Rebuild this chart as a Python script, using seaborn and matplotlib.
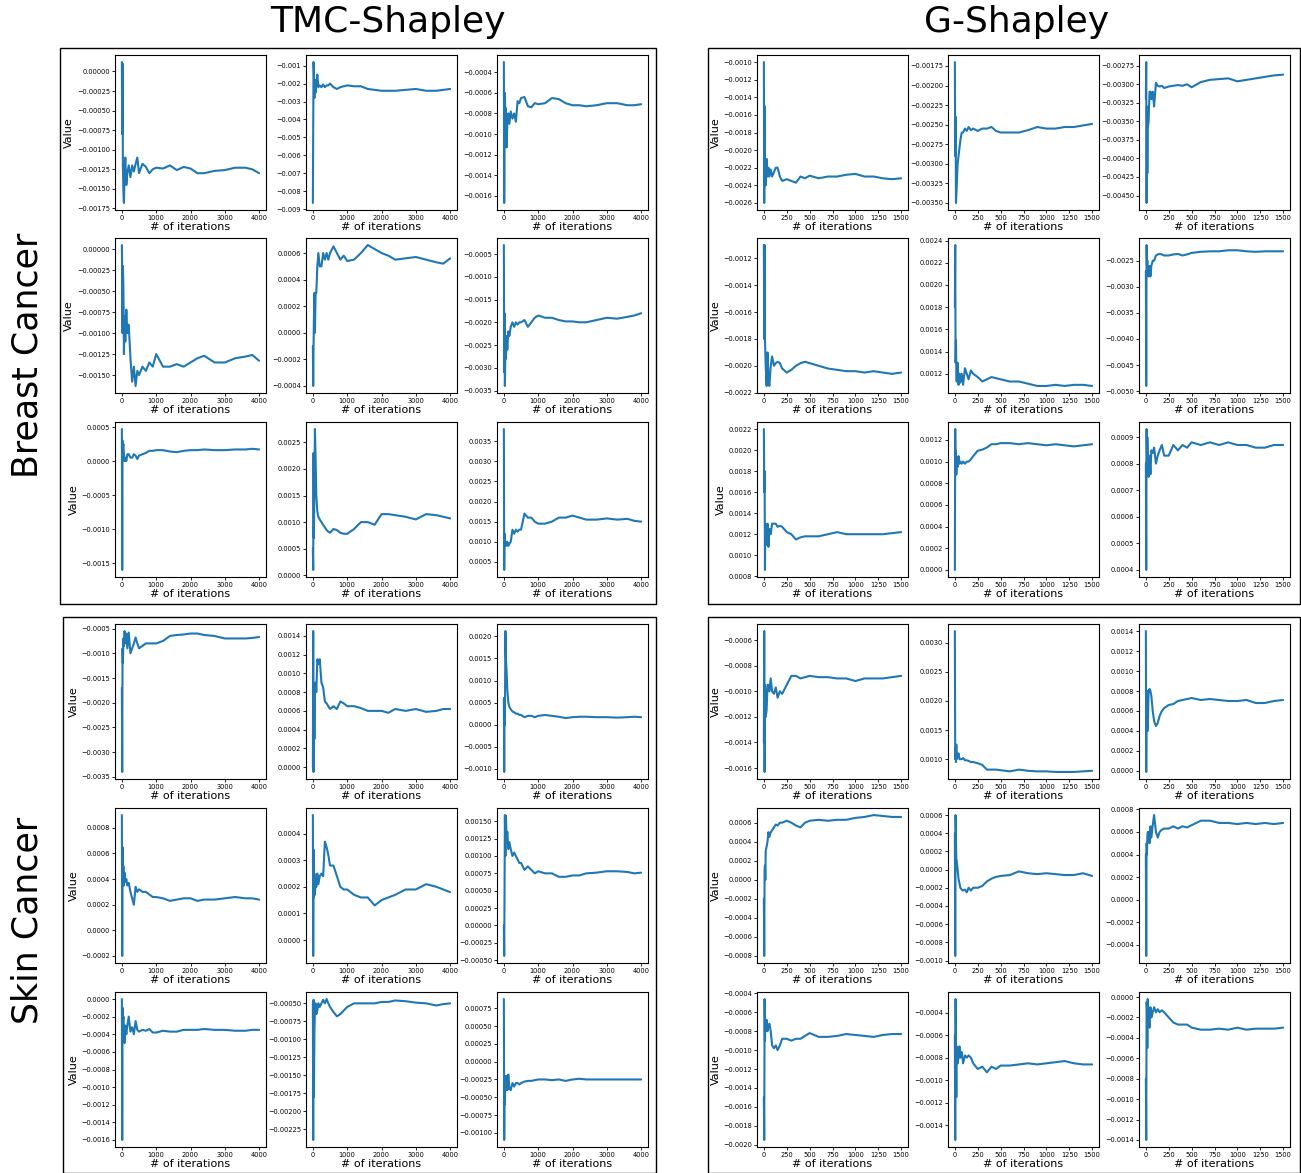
import matplotlib
matplotlib.use("Agg")
import matplotlib.pyplot as plt
import seaborn as sns
from matplotlib.patches import Rectangle

# shared iteration grids (TMC runs to 4000, G runs to 1500)
tmc_iters = [0, 10, 20, 30, 45, 60, 80, 100, 130, 160, 200, 250, 300, 350, 400, 450, 500,
             600, 700, 800, 900, 1000, 1200, 1400, 1600, 1800, 2000, 2200, 2400, 2700,
             3000, 3300, 3600, 3800, 4000]
g_iters = [0, 4, 8, 12, 16, 20, 30, 40, 50, 60, 75, 90, 110, 130, 150, 175, 200, 250, 300,
           350, 400, 450, 500, 600, 700, 800, 900, 1000, 1100, 1200, 1300, 1400, 1500]

# Breast Cancer - TMC-Shapley
bc_tmc_1 = [0.00012, -0.0008, 0.0001, -0.0012, -0.00155, -0.00168, -0.0013, -0.0011, -0.00145, -0.0013,
            -0.0012, -0.00135, -0.0012, -0.00128, -0.00118, -0.0011, -0.0013, -0.00118, -0.00122, -0.0013,
            -0.00125, -0.00123, -0.00124, -0.0012, -0.00126, -0.00122, -0.00124, -0.0013, -0.0013, -0.00127,
            -0.00126, -0.00123, -0.00123, -0.00125, -0.0013]
bc_tmc_2 = [-0.00865, -0.0045, -0.0008, -0.0013, -0.0028, -0.0018, -0.0025, -0.002, -0.0015, -0.0022,
            -0.0021, -0.0022, -0.00205, -0.0022, -0.0021, -0.0021, -0.002, -0.0022, -0.0023, -0.0022,
            -0.00215, -0.0021, -0.00215, -0.00215, -0.0023, -0.00235, -0.0024, -0.0024, -0.0024, -0.00235,
            -0.0023, -0.0024, -0.0024, -0.00235, -0.0023]
bc_tmc_3 = [-0.0003, -0.00167, -0.0009, -0.0006, -0.0009, -0.00075, -0.00113, -0.0009, -0.0008, -0.0009,
            -0.00078, -0.00085, -0.0008, -0.00088, -0.00068, -0.0007, -0.00065, -0.00064, -0.00073, -0.00074,
            -0.0007, -0.00071, -0.0007, -0.00065, -0.00066, -0.0007, -0.00072, -0.00072, -0.00073, -0.00072,
            -0.0007, -0.0007, -0.00072, -0.00072, -0.00071]
bc_tmc_4 = [0.00005, -0.0003, -0.001, -0.0002, -0.00045, -0.00125, -0.0008, -0.0011, -0.00072, -0.001,
            -0.0009, -0.0013, -0.00158, -0.0014, -0.00163, -0.00145, -0.0015, -0.0014, -0.00145, -0.00135,
            -0.0014, -0.00125, -0.0014, -0.0014, -0.00137, -0.0014, -0.00135, -0.0013, -0.00127, -0.00135,
            -0.00135, -0.0013, -0.00128, -0.00126, -0.00133]
bc_tmc_5 = [-0.0001, -0.0004, -0.0001, 0.0001, 0.0003, 0.0, 0.0003, 0.0003, 0.0005, 0.0006,
            0.0005, 0.0005, 0.0006, 0.00055, 0.0006, 0.00055, 0.0006, 0.00065, 0.0006, 0.00055,
            0.00058, 0.00054, 0.00055, 0.0006, 0.00066, 0.00063, 0.0006, 0.00058, 0.00055, 0.00056,
            0.00057, 0.00055, 0.00053, 0.00052, 0.00056]
bc_tmc_6 = [-0.0003, -0.0031, -0.0018, -0.0034, -0.0025, -0.0028, -0.0023, -0.0026, -0.0022, -0.0023,
            -0.0021, -0.002, -0.0021, -0.002, -0.00205, -0.002, -0.002, -0.00195, -0.0021, -0.002,
            -0.0019, -0.00185, -0.0019, -0.0019, -0.00195, -0.00198, -0.00198, -0.002, -0.002, -0.00195,
            -0.0019, -0.00192, -0.00188, -0.00185, -0.0018]
bc_tmc_7 = [0.00047, -0.0016, 0.0003, 0.0002, 0.00025, 0.0001, 0.0, 0.00005, 0.0, 0.0001,
            0.0001, 0.00005, 0.00005, 0.0001, 0.00008, 0.00003, 0.00008, 0.0001, 0.00012, 0.00015,
            0.00015, 0.00016, 0.00016, 0.00014, 0.00013, 0.00015, 0.00016, 0.00016, 0.00017, 0.00016,
            0.00016, 0.00017, 0.00017, 0.00018, 0.00017]
bc_tmc_8 = [0.0005, 0.0001, 0.0023, 0.0007, 0.0017, 0.00275, 0.0022, 0.0015, 0.0012, 0.0011,
            0.00105, 0.001, 0.00095, 0.0009, 0.00085, 0.00082, 0.0008, 0.00087, 0.00085, 0.0008,
            0.00078, 0.00078, 0.00087, 0.001, 0.001, 0.00095, 0.00115, 0.00115, 0.00113, 0.0011,
            0.00105, 0.00115, 0.00113, 0.0011, 0.00107]
bc_tmc_9 = [0.0038, 0.0003, 0.0012, 0.0009, 0.001, 0.00095, 0.0009, 0.001, 0.0009, 0.00095,
            0.001, 0.0013, 0.0012, 0.0013, 0.00125, 0.0013, 0.0013, 0.0017, 0.0016, 0.0016,
            0.0015, 0.00145, 0.00145, 0.0015, 0.0016, 0.0016, 0.00165, 0.0016, 0.00155, 0.00155,
            0.00158, 0.00155, 0.00157, 0.00152, 0.0015]

# Breast Cancer - G-Shapley
bc_g_1 = [-0.001, -0.0026, -0.0015, -0.0021, -0.0023, -0.0024, -0.0021, -0.0023, -0.0022, -0.0023,
          -0.00222, -0.0023, -0.00225, -0.0022, -0.0022, -0.0023, -0.00235, -0.00233, -0.00235, -0.00237,
          -0.0023, -0.00232, -0.00229, -0.00232, -0.0023, -0.0023, -0.00228, -0.00227, -0.0023, -0.0023,
          -0.00232, -0.00233, -0.00232]
bc_g_2 = [-0.0017, -0.0029, -0.0024, -0.0035, -0.0034, -0.0033, -0.003, -0.0029, -0.0028, -0.0027,
          -0.0026, -0.0026, -0.00255, -0.00258, -0.00253, -0.00257, -0.00255, -0.00258, -0.00255, -0.00255,
          -0.00253, -0.00258, -0.0026, -0.0026, -0.0026, -0.00257, -0.00253, -0.00255, -0.00255, -0.00253,
          -0.00253, -0.00251, -0.00249]
bc_g_3 = [-0.0032, -0.0027, -0.0046, -0.0033, -0.0042, -0.0036, -0.0035, -0.0031, -0.0031, -0.0032,
          -0.0031, -0.0033, -0.00298, -0.00302, -0.00303, -0.00302, -0.00305, -0.00303, -0.00302, -0.00301,
          -0.00302, -0.003, -0.00304, -0.00297, -0.00294, -0.00293, -0.00292, -0.00296, -0.00294, -0.00292,
          -0.0029, -0.00288, -0.00287]
bc_g_4 = [-0.0011, -0.0018, -0.0011, -0.0018, -0.0019, -0.002, -0.00215, -0.0019, -0.0021, -0.00215,
          -0.002, -0.00193, -0.002, -0.00198, -0.00197, -0.00198, -0.00202, -0.00205, -0.00203, -0.002,
          -0.00198, -0.00197, -0.00198, -0.002, -0.00202, -0.00203, -0.00204, -0.00204, -0.00205, -0.00204,
          -0.00205, -0.00206, -0.00205]
bc_g_5 = [0.0018, 0.00236, 0.0013, 0.0015, 0.0012, 0.00113, 0.0013, 0.0011, 0.0012, 0.00112,
          0.0012, 0.0011, 0.00125, 0.0012, 0.00115, 0.00123, 0.0012, 0.00117, 0.00113, 0.00115,
          0.00117, 0.00116, 0.00115, 0.00113, 0.00113, 0.00111, 0.00109, 0.00109, 0.0011, 0.00109,
          0.0011, 0.0011, 0.00109]
bc_g_6 = [-0.0027, -0.0049, -0.0022, -0.0026, -0.0025, -0.0027, -0.0028, -0.0026, -0.0028, -0.0026,
          -0.0025, -0.0025, -0.0024, -0.00238, -0.00237, -0.00238, -0.0024, -0.0024, -0.00238, -0.00237,
          -0.0024, -0.00238, -0.00235, -0.00233, -0.00232, -0.00232, -0.0023, -0.0023, -0.00232, -0.00233,
          -0.00232, -0.00232, -0.00232]
bc_g_7 = [0.0022, 0.0016, 0.0018, 0.00086, 0.0013, 0.0012, 0.0011, 0.0013, 0.00108, 0.00125,
          0.0012, 0.0013, 0.0013, 0.0013, 0.00127, 0.00128, 0.00127, 0.00122, 0.0012, 0.00115,
          0.00117, 0.00118, 0.00118, 0.00118, 0.0012, 0.00122, 0.0012, 0.0012, 0.0012, 0.0012,
          0.0012, 0.00121, 0.00122]
bc_g_8 = [0.0, 0.0013, 0.0009, 0.0011, 0.00088, 0.001, 0.00095, 0.00105, 0.00098, 0.001,
          0.00098, 0.001, 0.00098, 0.001, 0.001, 0.00102, 0.00105, 0.0011, 0.00111, 0.00113,
          0.00116, 0.00116, 0.00117, 0.00117, 0.00116, 0.00117, 0.00116, 0.00115, 0.00116, 0.00115,
          0.00114, 0.00115, 0.00116]
bc_g_9 = [0.0008, 0.0004, 0.00093, 0.0008, 0.0009, 0.00085, 0.00075, 0.00083, 0.00076, 0.00085,
          0.00084, 0.00086, 0.0008, 0.00083, 0.00085, 0.00087, 0.00083, 0.00083, 0.00087, 0.00085,
          0.00087, 0.00086, 0.00088, 0.00087, 0.00088, 0.00087, 0.00088, 0.00087, 0.00087, 0.00086,
          0.00086, 0.00087, 0.00087]

# Skin Cancer - TMC-Shapley
sc_tmc_1 = [-0.0017, -0.0034, -0.0009, -0.0012, -0.0007, -0.00085, -0.00055, -0.0008, -0.0006, -0.0009,
            -0.00058, -0.001, -0.0009, -0.0008, -0.00068, -0.0008, -0.0009, -0.00085, -0.0008, -0.0008,
            -0.0008, -0.0008, -0.00075, -0.00065, -0.00063, -0.00062, -0.0006, -0.0006, -0.00063, -0.00065,
            -0.0007, -0.0007, -0.0007, -0.00069, -0.00067]
sc_tmc_2 = [0.0, 0.00145, -0.00005, 0.0009, 0.0003, 0.0008, 0.0009, 0.0008, 0.00115, 0.0011,
            0.00115, 0.0009, 0.00085, 0.0007, 0.00068, 0.00065, 0.00062, 0.00065, 0.00062, 0.0007,
            0.00068, 0.00065, 0.00065, 0.00063, 0.0006, 0.0006, 0.0006, 0.00058, 0.00062, 0.0006,
            0.00062, 0.00059, 0.0006, 0.00062, 0.00062]
sc_tmc_3 = [0.0006, -0.00107, 0.0006, 0.0, 0.00212, 0.0015, 0.0012, 0.0008, 0.0005, 0.0004,
            0.00035, 0.0003, 0.00028, 0.00025, 0.00025, 0.00022, 0.00022, 0.00017, 0.0002, 0.0002,
            0.00017, 0.0002, 0.00022, 0.0002, 0.00018, 0.00015, 0.00017, 0.00018, 0.00018, 0.00017,
            0.00017, 0.00016, 0.00017, 0.00018, 0.00017]
sc_tmc_4 = [0.0009, -0.0002, 0.00065, 0.0004, 0.0005, 0.00035, 0.00045, 0.00038, 0.0004, 0.00035,
            0.00037, 0.0003, 0.00025, 0.0002, 0.00034, 0.0003, 0.00032, 0.0003, 0.0003, 0.00028,
            0.00026, 0.00026, 0.00025, 0.00023, 0.00024, 0.00025, 0.00025, 0.00023, 0.00024, 0.00024,
            0.00025, 0.00026, 0.00025, 0.00025, 0.00024]
sc_tmc_5 = [0.00047, -0.00006, 0.00034, 0.00016, 0.00025, 0.00017, 0.00022, 0.0002, 0.00025, 0.00021,
            0.00024, 0.00025, 0.00024, 0.00037, 0.00035, 0.00032, 0.00028, 0.00028, 0.00024, 0.0002,
            0.00019, 0.00019, 0.00017, 0.00016, 0.00016, 0.00013, 0.00015, 0.00016, 0.00017, 0.00019,
            0.00019, 0.00021, 0.0002, 0.00019, 0.00018]
sc_tmc_6 = [0.0, -0.00044, 0.0005, 0.00159, 0.001, 0.00158, 0.0012, 0.00135, 0.0011, 0.0012,
            0.0011, 0.001, 0.00105, 0.001, 0.00095, 0.0009, 0.0009, 0.0008, 0.00085, 0.0008,
            0.00075, 0.00078, 0.00075, 0.00075, 0.0007, 0.0007, 0.00072, 0.00072, 0.00075, 0.00076,
            0.00078, 0.00078, 0.00077, 0.00075, 0.00076]
sc_tmc_7 = [0.0, -0.0016, -0.0001, -0.0003, -0.0002, -0.0004, -0.0005, -0.0003, -0.0004, -0.0003,
            -0.0002, -0.00037, -0.00032, -0.0004, -0.00025, -0.00035, -0.00037, -0.00035, -0.00036, -0.00034,
            -0.00038, -0.00038, -0.00036, -0.00037, -0.00037, -0.00035, -0.00035, -0.00035, -0.00034, -0.00035,
            -0.00035, -0.00036, -0.00036, -0.00035, -0.00035]
sc_tmc_8 = [-0.0005, -0.0024, -0.00045, -0.0018, -0.0009, -0.0006, -0.0005, -0.00065, -0.0006, -0.0005,
            -0.00055, -0.0005, -0.00045, -0.0005, -0.00044, -0.0005, -0.00055, -0.00062, -0.00068, -0.00065,
            -0.0006, -0.00055, -0.0005, -0.0005, -0.0005, -0.0005, -0.00048, -0.00048, -0.00046, -0.00047,
            -0.00049, -0.0005, -0.00053, -0.00051, -0.0005]
sc_tmc_9 = [0.00088, -0.0011, -0.0003, -0.0006, -0.0002, -0.0004, -0.0002, -0.0004, -0.00018, -0.00038,
            -0.0004, -0.0003, -0.00035, -0.0003, -0.0003, -0.00032, -0.0003, -0.00028, -0.00027, -0.00027,
            -0.00026, -0.00025, -0.00025, -0.00026, -0.00025, -0.00027, -0.00025, -0.00024, -0.00025, -0.00025,
            -0.00025, -0.00025, -0.00025, -0.00025, -0.00025]

# Skin Cancer - G-Shapley
sc_g_1 = [-0.0014, -0.00053, -0.00163, -0.00095, -0.001, -0.0012, -0.00115, -0.00095, -0.00095, -0.001,
          -0.0009, -0.001, -0.00102, -0.00097, -0.00105, -0.001, -0.00102, -0.00095, -0.00088, -0.00088,
          -0.0009, -0.00089, -0.00088, -0.00089, -0.00089, -0.0009, -0.0009, -0.00092, -0.0009, -0.0009,
          -0.0009, -0.00089, -0.00088]
sc_g_2 = [0.0032, 0.001, 0.0012, 0.00095, 0.00125, 0.001, 0.00105, 0.0011, 0.001, 0.001,
          0.001, 0.00102, 0.00098, 0.00098, 0.00097, 0.00095, 0.00095, 0.00093, 0.0009, 0.00082,
          0.00082, 0.00082, 0.00081, 0.00079, 0.00082, 0.0008, 0.00079, 0.00079, 0.00078, 0.00078,
          0.00078, 0.00079, 0.0008]
sc_g_3 = [0.0014, -0.00001, 0.0007, 0.0004, 0.0008, 0.0004, 0.0008, 0.00082, 0.0008, 0.00075,
          0.0006, 0.0005, 0.00045, 0.00048, 0.00055, 0.0006, 0.00063, 0.00066, 0.00067, 0.0007,
          0.00071, 0.00072, 0.00073, 0.00071, 0.00072, 0.00071, 0.0007, 0.0007, 0.00071, 0.00068,
          0.00068, 0.0007, 0.00071]
sc_g_4 = [-0.0002, -0.0008, 0.0001, 0.00015, 0.0, 0.0003, 0.00035, 0.0004, 0.0005, 0.00045,
          0.0005, 0.00052, 0.00055, 0.00058, 0.00057, 0.0006, 0.0006, 0.00062, 0.0006, 0.00057,
          0.00055, 0.0006, 0.00062, 0.00063, 0.00062, 0.00063, 0.00063, 0.00065, 0.00066, 0.00068,
          0.00067, 0.00066, 0.00066]
sc_g_5 = [0.0004, -0.00095, 0.0006, 0.0003, 0.0001, 0.0001, 0.0, -0.0001, -0.00015, -0.0002,
          -0.00022, -0.00023, -0.00022, -0.00025, -0.0002, -0.00023, -0.0002, -0.0002, -0.00018, -0.00013,
          -0.0001, -0.00008, -0.00007, -0.00006, -0.00002, -0.00004, -0.00005, -0.00004, -0.00005, -0.00006,
          -0.00006, -0.00004, -0.00007]
sc_g_6 = [0.0004, -0.0005, 0.0005, 0.0004, 0.00055, 0.0006, 0.0006, 0.0005, 0.00065, 0.00055,
          0.00066, 0.00075, 0.0006, 0.00055, 0.0006, 0.00062, 0.00063, 0.00063, 0.00065, 0.00063,
          0.00065, 0.00064, 0.00066, 0.0007, 0.0007, 0.00068, 0.00068, 0.00067, 0.00068, 0.00067,
          0.00068, 0.00067, 0.00068]
sc_g_7 = [-0.0015, -0.00195, -0.00046, -0.0009, -0.0007, -0.0008, -0.00068, -0.0008, -0.00075, -0.00072,
          -0.0008, -0.00095, -0.00098, -0.00095, -0.001, -0.00095, -0.00088, -0.00088, -0.0009, -0.00088,
          -0.00088, -0.00085, -0.00082, -0.00086, -0.00086, -0.00085, -0.00083, -0.00084, -0.00085, -0.00086,
          -0.00084, -0.00083, -0.00083]
sc_g_8 = [-0.0006, -0.00153, -0.00028, -0.0008, -0.00115, -0.0007, -0.00085, -0.0008, -0.0007, -0.0008,
          -0.00075, -0.00085, -0.00078, -0.0008, -0.00078, -0.0008, -0.00085, -0.0009, -0.00088, -0.00093,
          -0.00088, -0.0009, -0.00087, -0.00087, -0.00086, -0.00085, -0.00086, -0.00085, -0.00084, -0.00083,
          -0.00085, -0.00086, -0.00086]
sc_g_9 = [-0.0008, -0.0014, -0.00005, -0.0001, -0.0005, -0.00002, -0.0002, -0.0003, -0.0001, -0.0002,
          -0.00015, -0.0001, -0.00015, -0.00012, -0.00015, -0.00013, -0.00015, -0.0002, -0.00025, -0.00027,
          -0.00027, -0.00027, -0.0003, -0.00032, -0.00032, -0.00031, -0.00032, -0.0003, -0.00032, -0.00031,
          -0.00031, -0.00031, -0.0003]

method_titles = ["TMC-Shapley", "G-Shapley"]
dataset_titles = ["Breast Cancer", "Skin Cancer"]

sns.set_style("ticks")
plt.rcParams['font.family'] = ['DejaVu Sans']
plt.rcParams['text.color'] = 'black'
plt.rcParams['axes.labelcolor'] = 'black'

W, H = 1301, 1173
fig = plt.figure(figsize=(W / 100, H / 100), dpi=100)

blue = "#1f77b4"
col_lefts = {0: [115, 306, 497], 1: [757, 948, 1139]}
row_tops = {0: [55, 238, 422], 1: [624, 808, 992]}
ax_w, ax_h = 151, 155

groups = {
    (0, 0): [bc_tmc_1, bc_tmc_2, bc_tmc_3, bc_tmc_4, bc_tmc_5, bc_tmc_6, bc_tmc_7, bc_tmc_8, bc_tmc_9],
    (0, 1): [bc_g_1, bc_g_2, bc_g_3, bc_g_4, bc_g_5, bc_g_6, bc_g_7, bc_g_8, bc_g_9],
    (1, 0): [sc_tmc_1, sc_tmc_2, sc_tmc_3, sc_tmc_4, sc_tmc_5, sc_tmc_6, sc_tmc_7, sc_tmc_8, sc_tmc_9],
    (1, 1): [sc_g_1, sc_g_2, sc_g_3, sc_g_4, sc_g_5, sc_g_6, sc_g_7, sc_g_8, sc_g_9],
}

for (d, m), series in groups.items():
    xs = tmc_iters if m == 0 else g_iters
    for k, ys in enumerate(series):
        r, c = divmod(k, 3)
        left = col_lefts[m][c]
        top = row_tops[d][r]
        ax = fig.add_axes([left / W, 1 - (top + ax_h) / H, ax_w / W, ax_h / H])
        sns.lineplot(x=xs, y=ys, ax=ax, color=blue, linewidth=1.5)
        ax.set_xlabel("# of iterations", fontsize=8, labelpad=1)
        ax.set_ylabel("Value" if c == 0 else "", fontsize=8, labelpad=2)
        ax.tick_params(labelsize=4.8, length=2, width=0.6, pad=1.5, colors="black")
        for sp in ax.spines.values():
            sp.set_linewidth(0.8)
            sp.set_color("black")
        if m == 0:
            ax.set_xticks([0, 1000, 2000, 3000, 4000])
        else:
            ax.set_xticks([0, 250, 500, 750, 1000, 1250, 1500])

# block frames
frames = [(60, 48, 656, 604), (708, 48, 1300, 604), (63, 617, 656, 1173), (708, 617, 1300, 1173)]
for x0, y0, x1, y1 in frames:
    fig.patches.append(Rectangle((x0 / W, 1 - y1 / H), (x1 - x0) / W, (y1 - y0) / H,
                                 transform=fig.transFigure, fill=False, edgecolor="black",
                                 linewidth=1.0))

fig.text(388 / W, 1 - 22 / H, method_titles[0], fontsize=26, ha="center", va="center")
fig.text(1017 / W, 1 - 22 / H, method_titles[1], fontsize=26, ha="center", va="center")
fig.text(28 / W, 1 - 355 / H, dataset_titles[0], fontsize=25, rotation=90, ha="center", va="center")
fig.text(28 / W, 1 - 920 / H, dataset_titles[1], fontsize=25, rotation=90, ha="center", va="center")

fig.savefig("out.png", dpi=100, facecolor="white")
